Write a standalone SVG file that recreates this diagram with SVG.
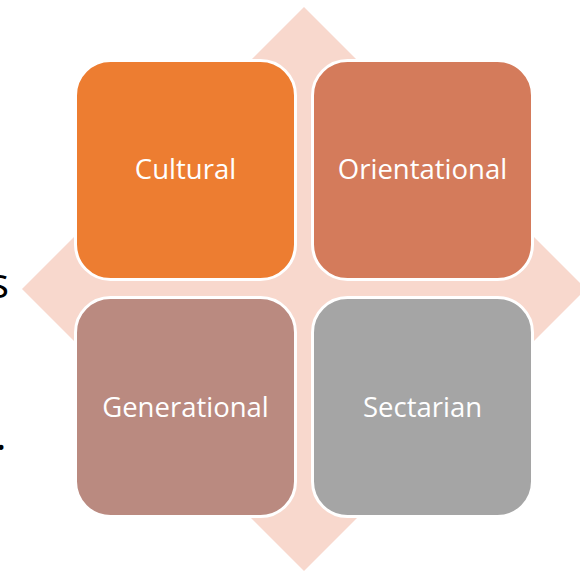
<svg xmlns="http://www.w3.org/2000/svg" width="580" height="572" viewBox="0 0 580 572">
  <style>
    .box { stroke: #ffffff; stroke-width: 3; }
    .lbl { font-family: "Open Sans", "Liberation Sans", sans-serif; font-size: 27.5px; fill: #ffffff; text-anchor: middle; }
    .side { font-family: "Open Sans", "Liberation Sans", sans-serif; font-size: 42px; fill: #000000; text-anchor: end; }
  </style>
  <rect width="580" height="572" fill="#ffffff"/>
  <text class="side" x="9" y="298">s</text>
  <text class="side" x="6.5" y="450">.</text>
  <g id="connectors">
    <polygon id="diamond" points="304,7 586,289 304,571 22,289" fill="#F8D8CD"/>
  </g>
  <g id="cultural">
    <rect class="box" x="75.5" y="60.5" width="220" height="219" rx="35" fill="#ED7D31"/>
    <text class="lbl" x="185.5" y="179">Cultural</text>
  </g>
  <g id="orientational">
    <rect class="box" x="312.5" y="60.5" width="220" height="219" rx="35" fill="#D47B5B"/>
    <text class="lbl" x="422.5" y="179">Orientational</text>
  </g>
  <g id="generational">
    <rect class="box" x="75.5" y="297.5" width="220" height="219" rx="35" fill="#BA8A80"/>
    <text class="lbl" x="185.5" y="417">Generational</text>
  </g>
  <g id="sectarian">
    <rect class="box" x="312.5" y="297.5" width="220" height="219" rx="35" fill="#A5A5A5"/>
    <text class="lbl" x="422.5" y="417">Sectarian</text>
  </g>
</svg>
